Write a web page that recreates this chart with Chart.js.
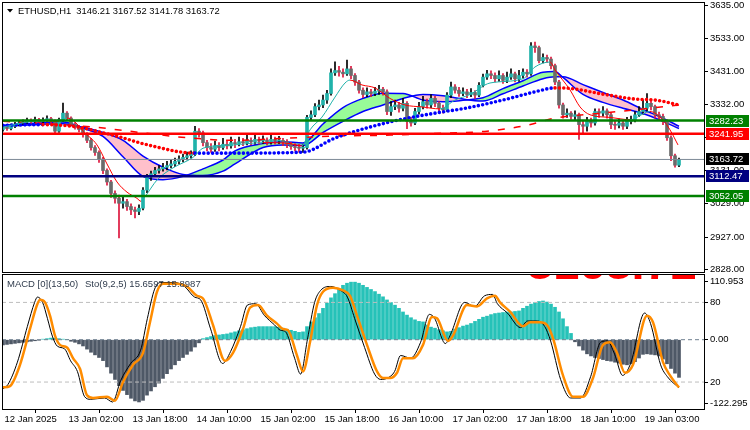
<!DOCTYPE html>
<html lang="en">
<head>
<meta charset="UTF-8" />
<title>ETHUSD H1</title>
<style>
  body { margin: 0; background: #fff; width: 750px; height: 430px; overflow: hidden; position: relative; }
  canvas { position: absolute; left: 0; }
  #main { top: 0; }
  #sub { top: 274px; }
</style>
<script src="https://cdn.jsdelivr.net/npm/chart.js"></script>
</head>
<body>
<canvas id="main" width="750" height="274"></canvas>
<canvas id="sub" width="750" height="156"></canvas>
<script>
// ---- price data (H1 candles, index 0 = 12 Jan 10:00) ----
const open = [
  3255,3262,3258,3265,3270,3275,3278,3283,3280,3285, 3279,3284,3288,3282,3250,3285,3305,3290,3270,3262,
  3255,3240,3222,3200,3185,3165,3130,3095,3060,3045, 3030,3035,3020,3010,3005,3015,3070,3110,3120,3130,
  3135,3140,3145,3150,3158,3165,3170,3175,3180,3250, 3245,3215,3200,3195,3205,3200,3210,3205,3215,3212,
  3218,3215,3222,3218,3225,3220,3223,3218,3225,3220, 3222,3218,3210,3203,3200,3198,3200,3292,3300,3325,
  3330,3345,3365,3428,3435,3430,3425,3440,3420,3400, 3375,3362,3370,3365,3372,3378,3370,3310,3325,3330,
  3320,3335,3280,3275,3310,3325,3340,3330,3350,3335, 3320,3315,3360,3385,3375,3365,3370,3362,3368,3360,
  3390,3415,3425,3420,3410,3420,3405,3415,3425,3410, 3420,3430,3425,3510,3505,3465,3475,3470,3450,3400,
  3330,3300,3305,3295,3300,3270,3265,3280,3275,3310, 3305,3312,3300,3270,3268,3275,3265,3280,3285,3300,
  3310,3320,3335,3325,3300,3295,3280,3230,3175,3146.21
];
const high = [
  3268,3266,3272,3277,3283,3285,3290,3288,3293,3289, 3291,3297,3292,3285,3290,3336,3310,3294,3276,3268,
  3259,3246,3228,3206,3190,3170,3135,3100,3068,3055, 3048,3042,3028,3018,3025,3078,3118,3128,3140,3145,
  3152,3158,3162,3168,3175,3180,3186,3190,3265,3258, 3250,3222,3212,3220,3215,3228,3222,3232,3225,3232,
  3228,3238,3230,3240,3232,3236,3230,3242,3232,3234, 3228,3224,3216,3212,3210,3208,3298,3312,3334,3345,
  3360,3375,3440,3462,3448,3440,3467,3448,3426,3405, 3382,3382,3378,3384,3390,3384,3376,3340,3345,3338,
  3350,3340,3292,3320,3338,3356,3348,3362,3356,3340, 3330,3368,3400,3392,3384,3382,3378,3380,3374,3398,
  3424,3436,3434,3428,3434,3426,3430,3440,3430,3436, 3440,3438,3520,3522,3510,3486,3482,3476,3455,3405,
  3336,3318,3310,3312,3305,3282,3292,3290,3318,3318, 3325,3318,3306,3280,3288,3282,3292,3296,3310,3325,
  3345,3365,3348,3330,3308,3302,3285,3236,3180,3167.52
];
const low = [
  3250,3252,3254,3261,3266,3270,3274,3274,3276,3273, 3275,3280,3276,3244,3246,3280,3284,3265,3256,3248,
  3232,3215,3192,3176,3155,3120,3085,3048,3030,2924, 3015,3008,2995,2985,2995,3010,3062,3100,3112,3122,
  3128,3132,3138,3142,3150,3156,3162,3168,3175,3232, 3205,3190,3185,3188,3190,3194,3196,3198,3200,3205,
  3206,3208,3208,3210,3210,3212,3208,3210,3210,3212, 3206,3200,3194,3190,3186,3185,3195,3285,3294,3315,
  3322,3335,3360,3420,3418,3415,3420,3410,3390,3366, 3352,3355,3355,3358,3362,3360,3300,3298,3316,3308,
  3312,3258,3265,3270,3302,3318,3320,3322,3325,3310, 3305,3310,3352,3366,3356,3358,3352,3355,3350,3355,
  3385,3408,3410,3400,3402,3396,3398,3408,3400,3402, 3412,3415,3420,3490,3458,3458,3460,3440,3392,3320,
  3290,3292,3286,3285,3225,3240,3250,3262,3268,3292, 3296,3290,3258,3255,3260,3255,3258,3272,3278,3294,
  3302,3312,3315,3290,3282,3270,3222,3160,3140,3141.78
];
const close = [
  3262,3258,3265,3270,3275,3278,3283,3280,3285,3279, 3284,3288,3282,3250,3285,3305,3290,3270,3262,3255,
  3240,3222,3200,3185,3165,3130,3095,3060,3045,3030, 3035,3020,3010,3005,3015,3070,3110,3120,3130,3135,
  3140,3145,3150,3158,3165,3170,3175,3180,3250,3245, 3215,3200,3195,3205,3200,3210,3205,3215,3212,3218,
  3215,3222,3218,3225,3220,3223,3218,3225,3220,3222, 3218,3210,3203,3200,3198,3200,3292,3300,3325,3330,
  3345,3365,3428,3435,3430,3425,3440,3420,3400,3375, 3362,3370,3365,3372,3378,3370,3310,3325,3330,3320,
  3335,3280,3275,3310,3325,3340,3330,3350,3335,3320, 3315,3360,3385,3375,3365,3370,3362,3368,3360,3390,
  3415,3425,3420,3410,3420,3405,3415,3425,3410,3420, 3430,3425,3510,3505,3465,3475,3470,3450,3400,3330,
  3300,3305,3295,3300,3270,3265,3280,3275,3310,3305, 3312,3300,3270,3268,3275,3265,3280,3285,3300,3310,
  3320,3335,3325,3300,3295,3280,3230,3175,3146.21,3163.72
];

// ---- overlay indicators (bar index -> price) ----
const cloudIdx = [0,5,10,15,20,25,30,35,40,45,50,55,58,65,70,75,80,85,90,95,100,105,110,115,118,120,125,130,135,138,140,145,150,155,160,165,169];
const cloudFast = [3268,3272,3276,3278,3259,3234,3172,3112,3102,3112,3135,3162,3190,3212,3218,3214,3272,3322,3350,3366,3365,3345,3340,3344,3348,3352,3380,3404,3430,3432,3414,3362,3338,3320,3304,3280,3258];
const cloudSlow = [3266,3268,3271,3273,3262,3246,3222,3174,3140,3118,3115,3128,3150,3200,3208,3206,3246,3280,3310,3330,3350,3362,3358,3348,3343,3342,3364,3388,3410,3416,3416,3392,3368,3345,3316,3290,3265];

const dotIdx = [0,10,19,24,29,34,39,44,48,58,75,83,91,100,108,116,125,133,138,142,150,158,163,169];
const dotVal = [3268,3270,3262,3248,3233,3215,3200,3187,3183,3183,3186,3229,3260,3287,3305,3321,3345,3370,3382,3380,3363,3348,3345,3330];

const thinIdx = [0,5,10,14,16,18,20,23.5,26,28.5,31,33.5,34.5,35.5,38.5,42.5,47.5,50,57.5,65,71.75,74.75,76.75,79.75,83,85.5,86.75,89.75,93,96.75,100.5,104.75,109.25,113,116.75,121.75,130,133,136.75,138,141.75,144.25,146.75,151.75,156.75,161.75,165,166.75,168.75];
const thinVal = [3262,3276,3282,3280,3290,3278,3250,3208,3150,3095,3064,3045,3036,3050,3101,3138,3170,3198,3208,3215,3212,3205,3254,3293,3354,3397,3406,3391,3382,3350,3330,3324,3318,3345,3362,3397,3410,3446,3461,3437,3376,3324,3300,3292,3285,3310,3284,3254,3208];

const dashIdx = [0,12,23,35,46,58,70,83,97,110,121,131,138,150,160,169];
const dashVal = [3280,3272,3262,3245,3230,3222,3228,3235,3238,3244,3250,3268,3290,3305,3318,3330];

// horizontal levels
const levelValues = [3282.23, 3241.95, 3163.72, 3112.47, 3052.05];
const levelColors = ["#008000", "#FF0000", "#7D8A96", "#000080", "#008000"];
const levelLabelBg = ["#008000", "#FF0000", "#000000", "#000080", "#008000"];
const levelWidths = [2.5, 2.5, 1, 2.5, 2.5];

const priceTicks = [3635, 3533, 3431, 3332, 3230, 3131, 3029, 2927, 2828];

// ---- MACD histogram + stochastic ----
const macd = [
  -10,-9,-8,-7,-6,-5,-4,-3,-2,-1, 1,2,3,3,2,1,0,-3,-5,-8,
  -12,-18,-24,-29,-34,-40,-52,-64,-76,-88, -97,-105,-112,-117,-119,-116,-106,-98,-90,-83,
  -74,-65,-56,-48,-40,-34,-28,-22,-14,-6, 2,4,6,8,9,10,11,13,15,17,
  19,21,23,24,25,25,25,25,25,24, 22,20,18,16,14,15,25,34,42,50,
  60,70,80,88,97,104,108,110,110,108, 104,100,96,92,87,82,76,71,66,60,
  53,47,42,38,35,34,28,24,22,19, 17,15,16,20,23,26,28,31,35,39,
  43,45,48,50,51,52,53,53,54,55, 60,64,68,71,73,74,72,68,62,53,
  40,25,12,-4,-12,-20,-27,-31,-34,-36, -38,-40,-41,-43,-45,-47,-48,-46,-42,-35,
  -28,-27,-28,-29,-31,-37,-46,-55,-64,-72
];
const stoMainIdx = [0,1.2,3.6,6.1,7.9,8.6,9.9,11.1,12.4,13.6,15.4,16.9,18.6,20.4,21.9,25.4,27.4,29.4,31.9,34.4,36.1,37.9,39.4,42.9,45.4,47.9,49.4,51.9,54.9,56.9,59.4,61.1,63.1,65.4,67.9,69.4,70.6,72.9,74.4,76.1,77.9,79.4,81.9,84.4,86.1,87.9,90.4,92.9,94.4,96.1,97.9,99.4,101.9,104.4,106.6,107.9,110.6,111.9,115.4,117.9,120.4,122.4,123.6,126.1,129.4,131.1,133.6,135.4,136.9,139.4,141.9,144.4,146.9,149.4,151.1,152.9,154.9,156.9,160.4,161.9,164.4,166.1,169];
const stoMainVal = [15,18,35,62,80,84,80,68,54,47,45,36,28,9,7,8,5,21,34,44,68,90,95,95,92,84,82,60,34,43,62,78,79,70,63,59,58,38,26,52,80,89,92,89,84,68,46,26,22,23,28,40,38,50,71,68,49,56,80,77,85,86,79,72,61,66,66,62,51,22,8,8,24,50,51,41,25,34,72,64,33,24,15.66];
const stoSigIdx = [0,1.75,4.25,6.75,8.5,9.25,10.5,11.75,13,14.25,16,17.5,19.25,21,22.5,26,28,30,32.5,35,36.75,38.5,40,43.5,46,48.5,50,52.5,55.5,57.5,60,61.75,63.75,66,68.5,70,71.25,73.5,75,76.75,78.5,80,82.5,85,86.75,88.5,91,93.5,95,96.75,98.5,100,102.5,105,107.25,108.5,111.25,112.5,116,118.5,121,123,124.25,126.75,130,131.75,134.25,136,137.5,140,142.5,145,147.5,150,151.75,153.5,155.5,157.5,161,162.5,165,166.75,169];
const stoSigVal = [16,17,33,60,78,82,80,70,55,48,46,38,30,10,8,9,6,20,33,42,65,88,94,94,92,85,83,63,36,42,60,76,78,70,64,60,59,40,28,50,78,88,91,89,85,70,48,28,23,23,27,38,38,48,69,68,51,55,78,77,83,85,80,73,62,65,65,63,53,25,9,9,23,48,50,42,27,33,70,65,35,25,15.9];
const stoLevels = [80, 20];
const macdTicks = [110.953, 0, -122.295];
const macdTickLabels = ["110.953", "0.00", "-122.295"];

const timeIdx = [0, 16, 32, 48, 64, 80, 96, 112, 128, 144, 160];
const timeLabels = ["12 Jan 2025", "13 Jan 02:00", "13 Jan 18:00", "14 Jan 10:00", "15 Jan 02:00",
  "15 Jan 18:00", "16 Jan 10:00", "17 Jan 02:00", "17 Jan 18:00", "18 Jan 10:00", "19 Jan 03:00"];

const TITLE = "ETHUSD,H1  3146.21 3167.52 3141.78 3163.72";
const SUB_TITLE_A = "MACD [0](13,50)";
const SUB_TITLE_B = "Sto(9,2,5) 15.6597 15.8987";

// ---- helpers ----
const FONT = "Liberation Sans";
Chart.defaults.font.family = FONT;
Chart.defaults.font.size = 9.5;
Chart.defaults.color = "#000";

const idx = close.map((_, i) => i);
const pts = (xs, ys) => xs.map((x, k) => ({ x: x, y: ys[k] }));
const slopeColor = (up, down) => (ctx) => ctx.p1.parsed.y >= ctx.p0.parsed.y ? up : down;
const XMIN = -0.25, XMAX = 175.25;
// keep Chart.js from adding label overflow padding around the plot
const noPad = s => { s.paddingTop = 0; s.paddingBottom = 0; s.paddingLeft = 0; s.paddingRight = 0; };

const framePlugin = {
  id: "frame",
  afterDraw(chart) {
    const a = chart.chartArea, ctx = chart.ctx;
    ctx.save();
    ctx.strokeStyle = "#000";
    ctx.lineWidth = 1;
    ctx.strokeRect(a.left + 0.5, a.top + 0.5, a.right - a.left, a.bottom - a.top - 1);
    ctx.restore();
  }
};

// ---- main price chart ----
const mainLabels = {
  id: "mainLabels",
  afterDraw(chart) {
    const ctx = chart.ctx, y = chart.scales.y;
    ctx.save();
    ctx.fillStyle = "#000";
    ctx.beginPath();
    ctx.moveTo(7, 9); ctx.lineTo(13, 9); ctx.lineTo(10, 12.5); ctx.closePath();
    ctx.fill();
    ctx.font = "9.4px " + FONT;
    ctx.textBaseline = "alphabetic";
    ctx.fillText(TITLE, 18, 14);
    // level price tags
    ctx.font = "9.5px " + FONT;
    ctx.textBaseline = "middle";
    levelValues.forEach((v, k) => {
      const py = Math.round(y.getPixelForValue(v));
      ctx.fillStyle = levelLabelBg[k];
      ctx.fillRect(706, py - 6, 43, 12);
      ctx.fillStyle = "#fff";
      ctx.fillText(v.toFixed(2), 709, py + 0.5);
    });
    ctx.restore();
  }
};

const levelSets = levelValues.map((v, k) => ({
  type: "line",
  data: [{ x: XMIN, y: v }, { x: XMAX, y: v }],
  borderColor: levelColors[k],
  borderWidth: levelWidths[k],
  pointRadius: 0,
  order: 0
}));

const bull = idx.map(i => close[i] >= open[i]);

new Chart(document.getElementById("main"), {
  type: "bar",
  data: {
    datasets: [
      ...levelSets,
      {
        type: "line",
        data: pts(thinIdx, thinVal),
        borderWidth: 1,
        borderColor: "#20B2AA",
        segment: { borderColor: slopeColor("#20B2AA", "#FF0000") },
        cubicInterpolationMode: "monotone",
        pointRadius: 0,
        order: 1
      },
      {
        type: "line",
        data: pts(dotIdx, dotVal),
        borderWidth: 3.6,
        borderDash: [0, 4.4],
        borderCapStyle: "round",
        borderColor: "#0000FF",
        segment: { borderColor: slopeColor("#0000FF", "#FF0000") },
        cubicInterpolationMode: "monotone",
        pointRadius: 0,
        order: 2
      },
      {
        type: "line",
        data: pts(dashIdx, dashVal),
        borderWidth: 1.5,
        borderDash: [7, 9],
        borderColor: "#FF0000",
        cubicInterpolationMode: "monotone",
        pointRadius: 0,
        order: 3
      },
      {
        type: "bar",
        data: idx.map(i => ({ x: i, y: [open[i], close[i]] })),
        backgroundColor: idx.map(i => bull[i] ? "#20B2AA" : "#6B6B6B"),
        barThickness: 3,
        minBarLength: 1,
        grouped: false,
        order: 4
      },
      {
        type: "bar",
        data: idx.map(i => ({ x: i, y: [low[i], high[i]] })),
        backgroundColor: idx.map(i => bull[i] ? "#000000" : "#DC143C"),
        barThickness: 1,
        grouped: false,
        order: 5
      },
      {
        type: "line",
        data: pts(cloudIdx, cloudSlow),
        borderColor: "#0000FF",
        borderWidth: 1.5,
        cubicInterpolationMode: "monotone",
        pointRadius: 0,
        order: 6
      },
      {
        type: "line",
        data: pts(cloudIdx, cloudFast),
        borderColor: "#0000FF",
        borderWidth: 1.5,
        cubicInterpolationMode: "monotone",
        pointRadius: 0,
        fill: { target: "-1", above: "#98FB98", below: "#FFC0CB" },
        order: 7
      }
    ]
  },
  options: {
    responsive: false,
    animation: false,
    events: [],
    devicePixelRatio: 1,
    layout: { padding: { left: 2, top: 2, right: 0, bottom: 1 } },
    plugins: { legend: { display: false }, tooltip: { enabled: false } },
    scales: {
      x: { type: "linear", min: XMIN, max: XMAX, offset: false, display: false },
      y: {
        type: "linear", position: "right", min: 2817.2, max: 3644.2,
        afterBuildTicks: s => { s.ticks = priceTicks.map(v => ({ value: v })); },
        afterFit: s => { s.width = 46; noPad(s); },
        ticks: { autoSkip: false, padding: 2, callback: v => v.toFixed(2) },
        grid: { drawOnChartArea: false, tickLength: 4, color: "#000" },
        border: { display: false }
      }
    }
  },
  plugins: [framePlugin, mainLabels]
});

// ---- MACD / Stochastic sub window ----
const subLabels = {
  id: "subLabels",
  beforeDatasetsDraw(chart) {
    const ctx = chart.ctx, a = chart.chartArea;
    ctx.save();
    ctx.beginPath();
    ctx.rect(a.left, a.top, a.right - a.left, a.bottom - a.top);
    ctx.clip();
    ctx.fillStyle = "#FF0000";
    ctx.font = "bold 47px " + FONT;
    ctx.textBaseline = "alphabetic";
    ctx.fillText("3163.72", 527, 4.5);
    ctx.restore();
  },
  afterDraw(chart) {
    const ctx = chart.ctx, ys = chart.scales.ys;
    ctx.save();
    ctx.font = "9.5px " + FONT;
    ctx.fillStyle = "#2F3B4C";
    ctx.textBaseline = "alphabetic";
    ctx.fillText(SUB_TITLE_A, 7, 12.5);
    ctx.fillText(SUB_TITLE_B, 85, 12.5);
    ctx.fillStyle = "#000";
    ctx.strokeStyle = "#000";
    ctx.textBaseline = "middle";
    stoLevels.forEach(v => {
      const py = Math.round(ys.getPixelForValue(v)) + 0.5;
      ctx.beginPath(); ctx.moveTo(704, py); ctx.lineTo(708, py); ctx.stroke();
      ctx.fillText(String(v), 710, py);
    });
    ctx.restore();
  }
};

const stoLevelSets = stoLevels.map(v => ({
  type: "line", yAxisID: "ys",
  data: [{ x: XMIN, y: v }, { x: XMAX, y: v }],
  borderColor: "#BDBDBD", borderWidth: 1, borderDash: [4, 3], pointRadius: 0, order: 2
}));

new Chart(document.getElementById("sub"), {
  type: "bar",
  data: {
    datasets: [
      {
        type: "line", yAxisID: "ys",
        data: pts(stoSigIdx, stoSigVal),
        borderColor: "#FF8C00", borderWidth: 2.5,
        cubicInterpolationMode: "monotone", pointRadius: 0, order: 0
      },
      {
        type: "line", yAxisID: "ys",
        data: pts(stoMainIdx, stoMainVal),
        borderColor: "#000000", borderWidth: 1,
        cubicInterpolationMode: "monotone", pointRadius: 0, order: 1
      },
      ...stoLevelSets,
      {
        type: "line", yAxisID: "ym",
        data: [{ x: XMIN, y: 0 }, { x: XMAX, y: 0 }],
        borderColor: "#6E7F8F", borderWidth: 1, borderDash: [4, 3], pointRadius: 0, order: 2
      },
      {
        type: "bar", yAxisID: "ym",
        data: idx.map(i => ({ x: i, y: macd[i] })),
        backgroundColor: idx.map(i => macd[i] >= 0 ? "#26C2B8" : "#4E5866"),
        barThickness: 3,
        grouped: false,
        order: 3
      }
    ]
  },
  options: {
    responsive: false,
    animation: false,
    events: [],
    devicePixelRatio: 1,
    layout: { padding: { left: 2, top: 0, right: 0, bottom: 0 } },
    plugins: { legend: { display: false }, tooltip: { enabled: false } },
    scales: {
      x: {
        type: "linear", min: XMIN, max: XMAX, offset: false, position: "bottom",
        afterBuildTicks: s => { s.ticks = timeIdx.map(v => ({ value: v })); },
        afterFit: s => { s.height = 20; noPad(s); },
        ticks: {
          autoSkip: false, maxRotation: 0, align: "start", labelOffset: 1.5, padding: 1,
          callback: (v, i) => timeLabels[i]
        },
        grid: { drawOnChartArea: false, tickLength: 3, color: "#000" },
        border: { display: false }
      },
      ym: {
        type: "linear", position: "right", min: -134.4, max: 125.6,
        afterBuildTicks: s => { s.ticks = macdTicks.map(v => ({ value: v })); },
        afterFit: s => { s.width = 46; noPad(s); },
        ticks: { autoSkip: false, padding: 2, callback: (v, i) => macdTickLabels[i] },
        grid: { drawOnChartArea: false, tickLength: 4, color: "#000" },
        border: { display: false }
      },
      ys: { type: "linear", display: false, min: -1.05, max: 101.4 }
    }
  },
  plugins: [framePlugin, subLabels]
});
</script>
</body>
</html>
